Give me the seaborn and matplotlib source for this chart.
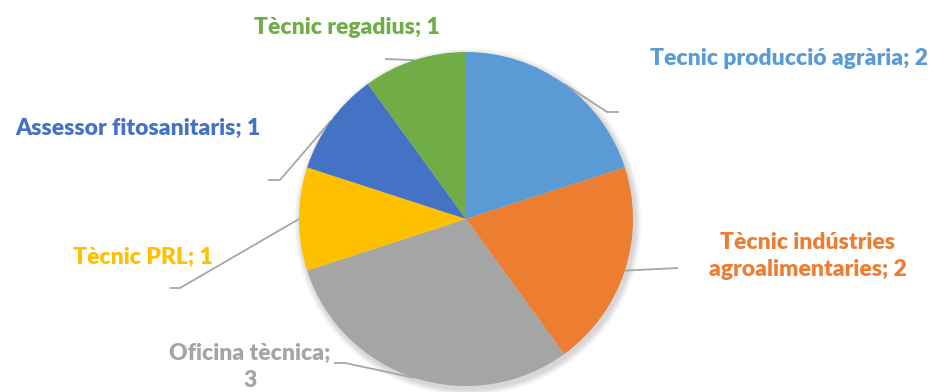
import matplotlib
matplotlib.use("Agg")
import matplotlib.pyplot as plt
import seaborn as sns
import numpy as np
from matplotlib.patches import Circle

# Data
categories = [
    "Tecnic producció agrària",
    "Tècnic indústries agroalimentaries",
    "Oficina tècnica",
    "Tècnic PRL",
    "Assessor fitosanitaris",
    "Tècnic regadius",
]
values = [2, 2, 3, 1, 1, 1]
label_texts = [
    "Tecnic producció agrària; 2",
    "Tècnic indústries\nagroalimentaries; 2",
    "Oficina tècnica;\n3",
    "Tècnic PRL; 1",
    "Assessor fitosanitaris; 1",
    "Tècnic regadius; 1",
]
colors = ["#5B9BD5", "#ED7D31", "#A5A5A5", "#FFC000", "#4472C4", "#70AD47"]

sns.set_theme(style="white")
plt.rcParams["font.family"] = ["Lato", "DejaVu Sans"]

W, H = 938, 392
fig = plt.figure(figsize=(W / 100, H / 100), dpi=100)
ax = fig.add_axes([0, 0, 1, 1])

cx, cy, R = 466, H - 219, 167

# soft drop shadow beneath the pie
for i in range(8):
    ax.add_patch(Circle((cx + 2, cy - 3), R + 1 + i * 0.8, color="black",
                        alpha=0.018, lw=0, zorder=0))

wedges, _ = ax.pie(values, colors=colors, startangle=90, counterclock=False,
                   center=(cx, cy), radius=R,
                   wedgeprops=dict(linewidth=0))
for w in wedges:
    w.set_zorder(2)

# label anchors and leader-line elbows (pixel layout, y measured from top)
label_pos = [(789, 58), (808, 256), (250, 367), (143, 257), (138, 128), (347, 27)]
elbows = [
    [(607, 112), (619, 112)],
    [(678, 268)],
    [(345, 363), (334, 363)],
    [(180, 288), (170, 288)],
    [(280, 180), (268, 180)],
    [(385, 59)],
]

for w, txt, (lx, ly), elb, col in zip(wedges, label_texts, label_pos, elbows, colors):
    ang = np.deg2rad((w.theta1 + w.theta2) / 2)
    ex, ey = cx + R * np.cos(ang), cy + R * np.sin(ang)
    xs = [ex] + [p[0] for p in elb]
    ys = [ey] + [H - p[1] for p in elb]
    ax.plot(xs, ys, color="#A6A6A6", lw=1.3, zorder=1, solid_capstyle="butt")
    ax.text(lx, H - ly, txt, color=col, fontsize=16.5, fontweight="heavy",
            ha="center", va="center", linespacing=1.35)

ax.set_xlim(0, W)
ax.set_ylim(0, H)
ax.set_aspect("equal")
ax.axis("off")

fig.savefig("out.png", dpi=100, facecolor="white")
